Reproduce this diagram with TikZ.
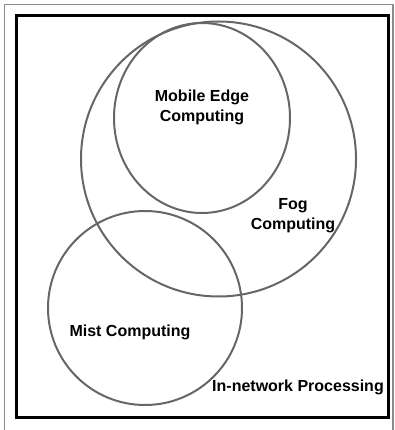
\documentclass[tikz,border=0pt]{standalone}
\usepackage{fontspec}
\setmainfont{Liberation Sans}
\usepackage{tikz}
\usetikzlibrary{shapes,positioning}

\begin{document}
\begin{tikzpicture}[x=1pt, y=-1pt]
\tikzstyle{ring}=[draw=black!60, line width=2pt, inner sep=0pt]
\tikzstyle{disc}=[ring, circle]
\tikzstyle{oval}=[ring, ellipse]
\tikzstyle{label}=[align=center, font=\fontsize{16}{20}\selectfont\bfseries, inner sep=0pt]
\tikzstyle{frame}=[draw=black!45, line width=1.3pt]
\tikzstyle{border}=[draw=black, line width=3pt]

  \useasboundingbox (0,0) rectangle (394,430);

  % frames
  \draw[frame] (4.5,430) -- (4.5,4.5) -- (393,4.5) -- (393,430);
  \node[border, rectangle, minimum width=372pt, minimum height=402.5pt, inner sep=0pt] (net) at (202,216.5) {};

  % sets
  \node[disc, minimum size=275pt] (fog)    at (218.5,159) {};
  \node[oval, minimum width=176pt, minimum height=190pt] (mobile) at (202,118) {};
  \node[disc, minimum size=194pt] (mist)   at (145,308) {};

  % labels
  \node[label] (mobiletxt) at (202,107) {Mobile Edge\\Computing};
  \node[label] (fogtxt)    at (293,216) {Fog\\Computing};
  \node[label] (misttxt)   at (130,332) {Mist Computing};
  \node[label] (nettxt)    at (298,387) {In-network Processing};

\end{tikzpicture}
\end{document}
